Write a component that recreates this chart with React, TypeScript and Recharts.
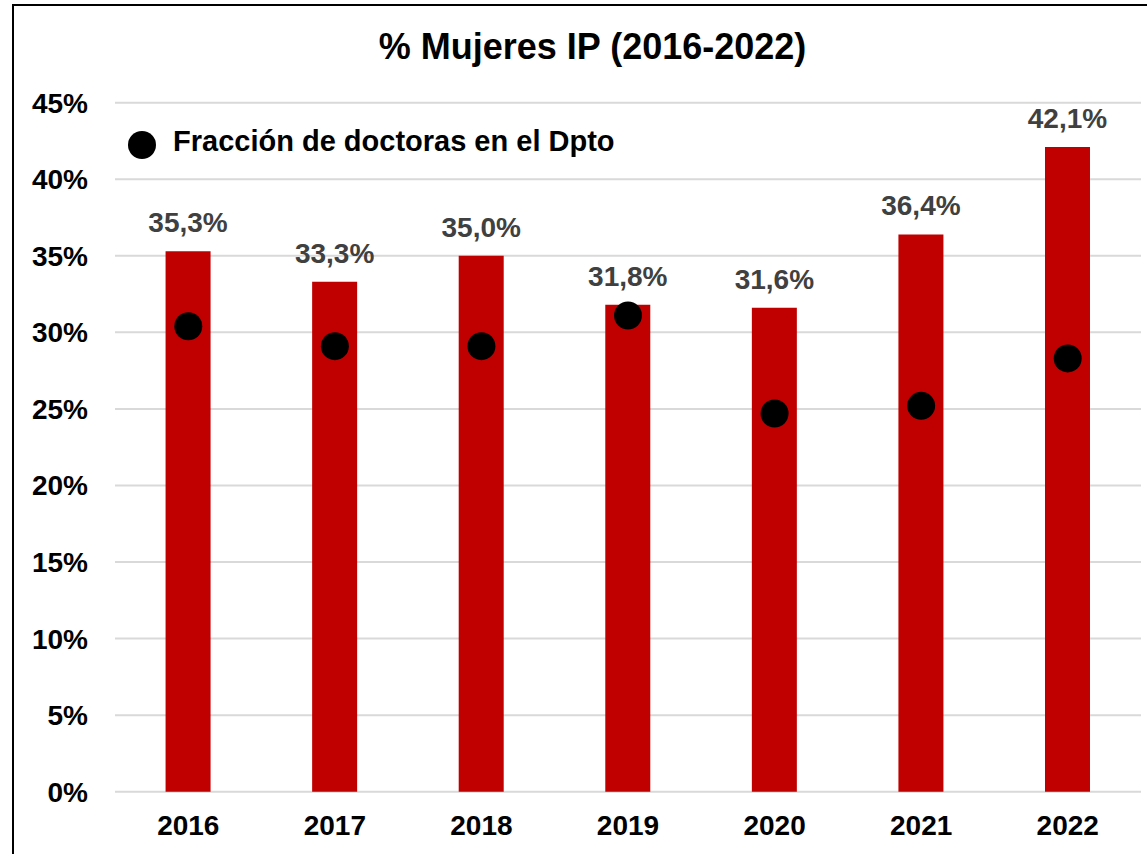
import {
  ComposedChart,
  Bar,
  Scatter,
  XAxis,
  YAxis,
  CartesianGrid,
  LabelList,
} from "recharts";

const years = ["2016", "2017", "2018", "2019", "2020", "2021", "2022"];
const mujeresIP = [0.353, 0.333, 0.35, 0.318, 0.316, 0.364, 0.421];
const doctoras = [0.304, 0.291, 0.291, 0.311, 0.247, 0.252, 0.283];
const yTicks = [0, 0.05, 0.1, 0.15, 0.2, 0.25, 0.3, 0.35, 0.4, 0.45];

const data = years.map((year, i) => ({
  year,
  ip: mujeresIP[i],
  doc: doctoras[i],
}));

const FONT = "'Liberation Sans', Arial, sans-serif";

const pct = (v: number) => `${Math.round(v * 100)}%`;
const pctLabel = (v: any) => `${(Number(v) * 100).toFixed(1).replace(".", ",")}%`;

const Dot = (props: any) => {
  const { cx, cy } = props;
  return <circle cx={cx} cy={cy} r={14} fill="#000000" />;
};

const App = () => {
  return (
    <div
      style={{
        position: "fixed",
        left: 0,
        top: 0,
        width: 1147,
        height: 854,
        background: "#ffffff",
        overflow: "hidden",
      }}
    >
      <div
        style={{
          position: "absolute",
          left: 12,
          top: 4,
          width: 1160,
          height: 880,
          borderLeft: "2px solid #000",
          borderTop: "2px solid #000",
        }}
      />
      <div
        style={{
          position: "absolute",
          left: 292.5,
          top: 29,
          width: 600,
          textAlign: "center",
          fontFamily: FONT,
          fontWeight: 700,
          fontSize: 36,
          lineHeight: "36px",
          color: "#000",
          whiteSpace: "nowrap",
        }}
      >
        % Mujeres IP (2016-2022)
      </div>
      {/* leyenda de la serie de puntos */}
      <svg
        width={30}
        height={30}
        style={{ position: "absolute", left: 127, top: 130 }}
      >
        <circle cx={15} cy={15} r={14} fill="#000000" />
      </svg>
      <div
        style={{
          position: "absolute",
          left: 173,
          top: 127,
          fontFamily: FONT,
          fontWeight: 700,
          fontSize: 29,
          lineHeight: "29px",
          color: "#000",
          whiteSpace: "nowrap",
        }}
      >
        Fracción de doctoras en el Dpto
      </div>
      <ComposedChart
        width={1147}
        height={854}
        data={data}
        margin={{ top: 102.7, right: 6, bottom: 12.3, left: 15 }}
        barCategoryGap="34.5%"
        style={{ position: "absolute", left: 0, top: 0 }}
      >
        <CartesianGrid vertical={false} stroke="#d9d9d9" strokeWidth={2} />
        <XAxis
          dataKey="year"
          axisLine={false}
          tickLine={false}
          height={50}
          tickSize={6}
          tickMargin={17.5}
          tick={{ fill: "#000", fontSize: 28, fontWeight: 700, fontFamily: FONT }}
        />
        <YAxis
          domain={[0, 0.45]}
          ticks={yTicks}
          tickFormatter={pct}
          axisLine={false}
          tickLine={false}
          width={100}
          tickSize={6}
          tickMargin={21}
          tick={{ fill: "#000", fontSize: 28, fontWeight: 700, fontFamily: FONT }}
        />
        <Bar dataKey="ip" fill="#c00000" isAnimationActive={false}>
          <LabelList
            dataKey="ip"
            position="top"
            offset={19}
            formatter={pctLabel}
            style={{ fill: "#404040", fontSize: 28, fontWeight: 700, fontFamily: FONT }}
          />
        </Bar>
        <Scatter
          dataKey="doc"
          name="Fracción de doctoras en el Dpto"
          fill="#000"
          shape={<Dot />}
          isAnimationActive={false}
        />
      </ComposedChart>
    </div>
  );
};

export default App;
